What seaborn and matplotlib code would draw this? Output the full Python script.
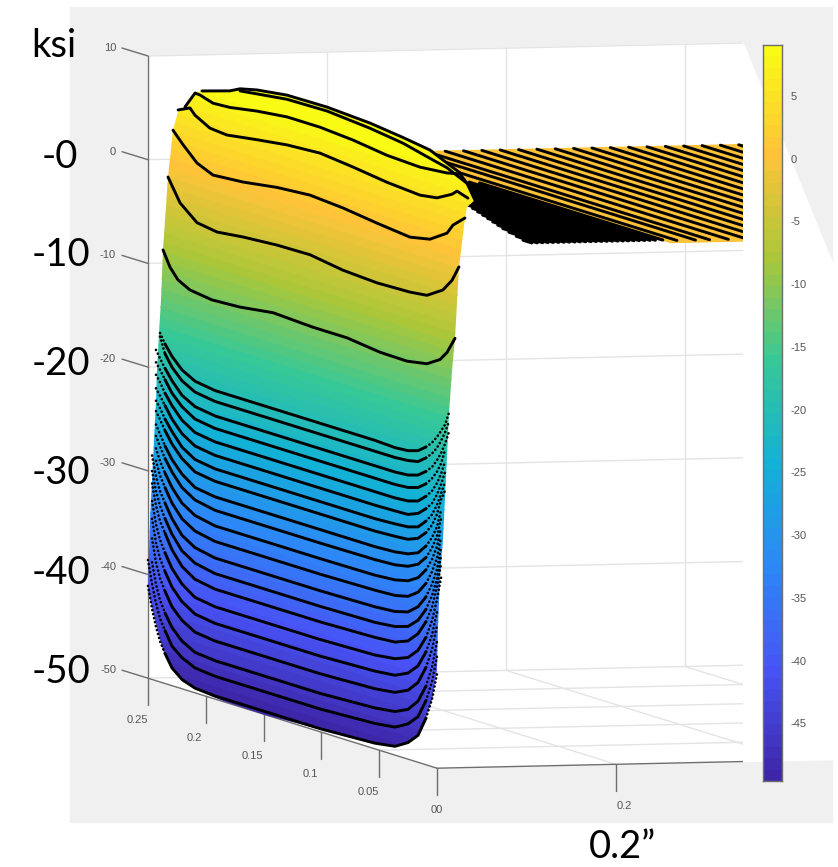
import matplotlib
matplotlib.use("Agg")
import matplotlib.pyplot as plt
import numpy as np
import seaborn as sns
from matplotlib.colors import LinearSegmentedColormap
from matplotlib.patches import Polygon, Rectangle

nan = np.nan

# Depth stations (in) shared by the lower stack of stress profiles
STACK_DEPTH = [0.25, 0.2465, 0.2431, 0.2396, 0.2353, 0.2292, 0.2206, 0.2093, 0.192, 0.1531, 0.1012,
               0.0536, 0.0363, 0.0251, 0.0164, 0.0095, 0.0043, 0.0, -0.0035, -0.0069, -0.0104]

# Mid-depth stress of each profile (ksi)
STACK_MID = [-20.25, -21.3, -22.7, -23.9, -25.2, -26.5, -27.8, -29.0, -30.5, -31.8, -33.3,
             -34.8, -36.4, -37.9, -39.4, -41.1, -42.7, -44.4, -46.3, -47.8, -49.7]

# Rise above the mid stress toward the deep edge, first 9 stations
STACK_RISE_DEEP = [
    [nan, nan, nan, 3.9, 3.0, 2.0, 1.0, 0.3, 0],
    [nan, nan, nan, 4.6, 3.1, 2.0, 1.0, 0.3, 0],
    [nan, nan, 4.6, 3.9, 3.1, 2.1, 1.0, 0.3, 0],
    [nan, nan, 4.6, 4.0, 3.2, 2.1, 1.1, 0.3, 0],
    [nan, nan, 4.7, 4.1, 3.2, 2.2, 1.1, 0.3, 0],
    [nan, nan, 4.7, 4.1, 3.3, 2.2, 1.1, 0.3, 0],
    [nan, nan, 4.8, 4.2, 3.3, 2.3, 1.1, 0.3, 0],
    [nan, nan, 5.0, 4.3, 3.4, 2.3, 1.2, 0.3, 0],
    [nan, nan, 5.2, 4.4, 3.4, 2.3, 1.2, 0.3, 0],
    [nan, nan, 5.4, 4.5, 3.5, 2.4, 1.2, 0.4, 0],
    [nan, nan, 5.7, 4.6, 3.6, 2.4, 1.2, 0.4, 0],
    [nan, nan, 6.0, 4.7, 3.7, 2.4, 1.2, 0.4, 0],
    [nan, 8.0, 6.1, 4.8, 3.8, 2.5, 1.2, 0.4, 0],
    [nan, 8.0, 6.2, 4.9, 3.8, 2.5, 1.2, 0.4, 0],
    [nan, 8.3, 6.3, 4.9, 3.9, 2.5, 1.2, 0.35, 0],
    [nan, 8.3, 6.2, 4.8, 3.7, 2.4, 1.2, 0.3, 0],
    [nan, 8.2, 6.0, 4.6, 3.5, 2.2, 1.1, 0.3, 0],
    [nan, 8.0, 5.8, 4.4, 3.3, 2.0, 1.0, 0.25, 0],
    [nan, 7.6, 5.6, 4.2, 3.1, 1.9, 0.9, 0.2, 0],
    [9.2, 7.0, 5.3, 3.9, 2.9, 1.6, 0.8, 0.2, 0],
    [8.6, 6.5, 4.9, 3.6, 2.6, 1.4, 0.6, 0.15, 0],
]

# Rise toward the shallow edge, last 10 stations
STACK_RISE_SHALLOW = [
    [0, -0.1, 0, 0.3, 0.9, 1.5, 2.2, 2.9, 3.6, 4.9],
    [0, 0, 0.1, 0.3, 0.9, 1.5, 2.2, 3.0, 3.9, 5.1],
    [0, 0, 0.1, 0.4, 1.0, 1.6, 2.4, 3.2, 4.2, 5.5],
    [0, 0, 0.1, 0.4, 1.0, 1.7, 2.5, 3.4, 4.8, nan],
    [0, 0, 0.1, 0.4, 1.1, 1.8, 2.7, 3.7, 5.0, nan],
    [0, 0.05, 0.1, 0.5, 1.2, 1.9, 2.9, 4.0, 5.3, nan],
    [0, 0.1, 0.2, 0.5, 1.3, 2.1, 3.2, 4.4, 5.6, nan],
    [0, 0.1, 0.2, 0.6, 1.4, 2.3, 3.5, 5.0, 6.0, nan],
    [0, 0.1, 0.3, 0.7, 1.6, 2.6, 3.8, 5.5, nan, nan],
    [0.05, 0.15, 0.4, 0.9, 1.8, 2.9, 4.2, 6.0, nan, nan],
    [0.05, 0.2, 0.5, 1.1, 2.1, 3.3, 4.7, 6.6, nan, nan],
    [0.1, 0.2, 0.5, 1.2, 2.3, 3.6, 5.1, 7.2, nan, nan],
    [0.1, 0.25, 0.6, 1.4, 2.6, 4.0, 5.6, 7.8, nan, nan],
    [0.1, 0.3, 0.7, 1.6, 2.9, 4.4, 6.2, 8.5, nan, nan],
    [0.15, 0.3, 0.8, 1.8, 3.2, 4.8, 6.9, 9.2, nan, nan],
    [0.15, 0.4, 0.9, 1.9, 3.4, 5.2, 7.4, 9.6, nan, nan],
    [0.2, 0.4, 1.0, 2.0, 3.6, 5.4, 7.8, nan, nan, nan],
    [0.2, 0.45, 1.05, 2.1, 3.8, 5.7, 8.2, nan, nan, nan],
    [0.25, 0.5, 1.1, 2.2, 3.9, 5.9, 8.5, nan, nan, nan],
    [0.25, 0.5, 1.2, 2.2, 4.0, 6.0, 8.6, nan, nan, nan],
    [0.25, 0.55, 1.3, 2.3, 4.2, 6.2, 8.8, nan, nan, nan],
]

# Upper profiles, each with its own depth stations
UPPER_DEPTH = [
    [0.2033, 0.1791, 0.1704, 0.1557, 0.1298, 0.0952, 0.058, 0.0294, 0.0061, -0.0087, -0.0199],
    [0.1704, 0.1298, 0.0952, 0.058, 0.0294, 0.0061, -0.0087, -0.026],
    [0.218, 0.2093, 0.205, 0.1938, 0.1791, 0.1557, 0.1298, 0.1012, 0.0727, 0.0433, 0.0147, -0.0087, -0.0199, -0.026, -0.0329],
    [0.224, 0.2137, 0.2093, 0.1964, 0.1817, 0.1557, 0.1298, 0.1012, 0.0727, 0.0433, 0.0147, 0.0, -0.013, -0.0173, -0.0268],
    [0.2284, 0.2197, 0.2076, 0.1938, 0.1678, 0.1384, 0.1099, 0.0813, 0.0519, 0.0234, 0.0061, -0.0087, -0.0138, -0.0242],
    [0.2327, 0.2223, 0.2076, 0.1903, 0.1678, 0.1384, 0.1099, 0.0813, 0.0519, 0.0234, 0.0087, -0.0052, -0.013, -0.019],
    [0.237, 0.231, 0.224, 0.2137, 0.1946, 0.1704, 0.1419, 0.1073, 0.0779, 0.0493, 0.026, 0.0087, -0.0026, -0.0087, -0.0156],
]
UPPER_KSI = [
    [8.25, 9.1, 9.6, 10.0, 10.4, 10.45, 10.2, 9.8, 9.4, 8.65, 8.1],
    [9.4, 10.0, 10.07, 9.7, 9.25, 8.6, 8.2, 7.3],
    [6.2, 7.84, 7.8, 7.4, 7.5, 7.96, 8.3, 8.3, 8.05, 7.6, 7.45, 7.7, 8.0, 7.3, 5.9],
    [5.7, 6.25, 5.7, 4.9, 4.75, 5.2, 5.6, 5.8, 5.45, 5.0, 4.75, 5.0, 5.8, 6.25, 5.9],
    [3.6, 2.5, 1.15, 0.47, 0.7, 1.2, 1.45, 1.2, 0.76, 0.4, 0.8, 1.9, 2.85, 3.9],
    [-1.07, -3.2, -4.6, -4.9, -4.6, -4.36, -4.3, -4.8, -5.0, -4.9, -4.7, -3.7, -2.5, -1.0],
    [-8.25, -9.7, -10.7, -11.3, -11.6, -11.45, -11.0, -11.2, -11.2, -11.6, -11.65, -11.3, -10.5, -9.6, -8.0],
]

# Outline of the coloured surface, clockwise from the top left
OUTLINE_DEPTH = [0.2033, 0.2093, 0.218, 0.224, 0.2284, 0.2327, 0.237, 0.2387, 0.2405, 0.2422, 0.2435, 0.2461,
                 0.2483, 0.2504, 0.2428, 0.237, 0.2284, 0.2197, 0.2076, 0.1851, 0.1488, 0.1185, 0.09, 0.0606,
                 0.0381, 0.026, 0.0173, 0.0104, 0.0043, 0.0, -0.0009, -0.0026, -0.0052, -0.0069, -0.0087,
                 -0.0104, -0.013, -0.0156, -0.019, -0.0242, -0.026, -0.0329, -0.026, -0.0199, -0.0087, 0.0061,
                 0.0294, 0.058, 0.0952, 0.1298, 0.1557, 0.1704, 0.1791]
OUTLINE_KSI = [8.25, 7.84, 6.2, 5.5, 3.6, -1.07, -8.25, -13.1, -16.4, -20.0, -23.0, -28.8,
               -34.7, -41.5, -44.5, -46.8, -48.5, -49.3, -49.7, -49.9, -50.0, -49.85, -49.7, -49.6,
               -49.2, -48.5, -47.6, -45.7, -43.6, -40.5, -36.4, -31.5, -27.8, -23.6, -19.7,
               -15.4, -11.2, -8.0, -1.0, 3.9, 5.0, 5.9, 7.3, 8.1, 8.65, 9.4,
               9.8, 10.2, 10.45, 10.4, 10.0, 9.6, 9.1]

# Flat part of the field past the edge of the block
PLATEAU_KSI = 0.2
HATCH_X = [0.2746, 0.2953, 0.3111, 0.332, 0.3525, 0.373, 0.3935, 0.414, 0.4345, 0.455, 0.4755, 0.496,
           0.5165, 0.537, 0.5575, 0.578, 0.5985, 0.619, 0.6395, 0.66]
FAN_X = [0.115, 0.121, 0.127, 0.133, 0.139, 0.145, 0.151, 0.157, 0.163, 0.169, 0.175, 0.181, 0.187,
         0.193, 0.199, 0.205, 0.211, 0.217, 0.223, 0.229, 0.235, 0.241, 0.247, 0.253, 0.2612]
FAN_DEPTH_START = [0.0146, 0.025, 0.036, 0.046, 0.055, 0.064, 0.073, 0.082, 0.091, 0.1, 0.108, 0.115, 0.122,
                   0.129, 0.136, 0.142, 0.148, 0.153, 0.158, 0.162, 0.165, 0.167, 0.168, 0.168, 0.1654]
FAN_DEPTH_END = 0.007

KSI_TICKS = [10, 0, -10, -20, -30, -40, -50]
KSI_LABELS = ["10", "0", "-10", "-20", "-30", "-40", "-50"]
DEPTH_TICKS = [0.25, 0.2, 0.15, 0.1, 0.05, 0.0]
DEPTH_LABELS = ["0.25", "0.2", "0.15", "0.1", "0.05", "00"]
X_TICKS = [0.0, 0.2, 0.4, 0.6]
CB_TICKS = [5, 0, -5, -10, -15, -20, -25, -30, -35, -40, -45]
CB_TOP = 9.06
CB_BOTTOM = -49.6

BIG_LABELS = ["ksi", "-0", "-10", "-20", "-30", "-40", "-50"]
BIG_LABEL_RIGHT = [76, 78, 90, 90, 90, 90, 90]
BIG_LABEL_MID = [46, 157, 255, 364, 473, 573, 672]

PARULA = [(0.2422, 0.1504, 0.6603), (0.2810, 0.3228, 0.9579), (0.1786, 0.5289, 0.9682),
          (0.0689, 0.6948, 0.8394), (0.2161, 0.7843, 0.5923), (0.6720, 0.7793, 0.2227),
          (0.9970, 0.7659, 0.2199), (0.9769, 0.9839, 0.0805)]


def project(x, depth, ksi):
    # view of the 3D box, gives figure pixels
    along = 0.25 - np.asarray(depth, dtype=float)
    x = np.asarray(x, dtype=float)
    ksi = np.asarray(ksi, dtype=float)
    return 148 + 895 * x + 1156 * along, 56 + (10 - ksi) * 10.37 - 19.51 * x + 360 * along


def segment(ax, p, q, **kws):
    a = project(*p)
    b = project(*q)
    ax.plot([a[0], b[0]], [a[1], b[1]], **kws)


sns.set_theme(style="white")
parula = LinearSegmentedColormap.from_list("parula", PARULA, N=64)

fig = plt.figure(figsize=(8.38, 8.67), dpi=100, facecolor="white")
ax = fig.add_axes([0, 0, 1, 1])
ax.set_axis_off()

panel = "#f0f0f0"
grid = "#e4e4e4"
axis_c = "#6e6e6e"
text_c = "#555555"

ax.add_patch(Rectangle((70, 7), 762, 815, color=panel, zorder=0))
X_END = 0.665
wall = [project(0, 0.25, 10), project(X_END, 0.25, 10), project(X_END, 0, -50),
        project(0, 0, -50), project(0, 0.25, -50)]
ax.add_patch(Polygon(np.array(wall, dtype=float), color="white", zorder=0.5))

# grid on the back wall and the floor
for k in KSI_TICKS:
    segment(ax, (0, 0.25, k), (X_END, 0.25, k), color=grid, lw=1, zorder=1)
for x in X_TICKS[1:]:
    segment(ax, (x, 0.25, 10), (x, 0.25, -50), color=grid, lw=1, zorder=1)
    segment(ax, (x, 0.25, -50), (x, 0, -50), color=grid, lw=1, zorder=1)
for d in DEPTH_TICKS[1:-1]:
    segment(ax, (0, d, -50), (X_END, d, -50), color=grid, lw=1, zorder=1)

# box edges and ticks
segment(ax, (0, 0.25, 10), (0, 0.25, -50), color=axis_c, lw=1, zorder=1.5)
segment(ax, (0, 0.25, -50), (0, 0, -50), color=axis_c, lw=1, zorder=1.5)
segment(ax, (0, 0, -50), (X_END, 0, -50), color=axis_c, lw=1, zorder=1.5)
for k, label in zip(KSI_TICKS, KSI_LABELS):
    px, py = project(0, 0.25, k)
    ax.plot([px, px - 26], [py, py - 8], color=axis_c, lw=1, zorder=1.5)
    ax.text(px - 32, py - 8, label, ha="right", va="center", fontsize=8, color=text_c, family="Liberation Sans")
for d, label in zip(DEPTH_TICKS, DEPTH_LABELS):
    px, py = project(0, d, -50)
    ax.plot([px, px], [py, py + 27], color=axis_c, lw=1, zorder=1.5)
    ax.text(px if d == 0 else px - 11, py + 42, label, ha="center", va="center", fontsize=8, color=text_c,
            family="Liberation Sans")
px, py = project(X_TICKS[1], 0, -50)
ax.plot([px, px], [py, py + 27], color=axis_c, lw=1, zorder=1.5)
ax.text(px + 8, py + 42, "0.2", ha="center", va="center", fontsize=8, color=text_c, family="Liberation Sans")

# flat orange part with its mesh lines
plateau_color = parula((PLATEAU_KSI - CB_BOTTOM) / (CB_TOP - CB_BOTTOM))
plateau = Polygon(np.column_stack(project([0.3, 0.72, 0.72, 0.2612, 0.2539], [0.25, 0.25, 0.0, 0.0, 0.1654],
                                          PLATEAU_KSI)), color=plateau_color, zorder=2)
ax.add_patch(plateau)
for x in HATCH_X:
    segment(ax, (x, 0.25, PLATEAU_KSI), (x, 0.005, PLATEAU_KSI), color="black", lw=2.1, zorder=2.2,
            solid_capstyle="round")
for x, d in zip(FAN_X, FAN_DEPTH_START):
    segment(ax, (x, d, PLATEAU_KSI), (x, FAN_DEPTH_END, PLATEAU_KSI), color="black", lw=2.3, zorder=2.2,
            solid_capstyle="round")

# stress surface, 64 colour bands clipped to the outline
band_edges = np.linspace(CB_BOTTOM, CB_TOP, 65)
band_edges[0] = -52
band_edges[-1] = 12
grid_d, grid_k = np.meshgrid([-0.06, 0.3], band_edges)
mesh_x, mesh_y = project(0, grid_d, grid_k)
mesh = ax.pcolormesh(mesh_x, mesh_y, np.arange(64).reshape(-1, 1), cmap=parula, vmin=0, vmax=63,
                     shading="flat", zorder=3, antialiased=False)
outline = Polygon(np.column_stack(project(0, OUTLINE_DEPTH, OUTLINE_KSI)), transform=ax.transData)
mesh.set_clip_path(outline)

# profile lines, dotted where they run up the edges
for mid, deep, shallow in zip(STACK_MID, STACK_RISE_DEEP, STACK_RISE_SHALLOW):
    rise = np.array(deep + [0, 0] + shallow)
    px, py = project(0, STACK_DEPTH, mid + rise[:len(STACK_DEPTH)])
    sns.lineplot(x=px[4:16], y=py[4:16], ax=ax, color="black", lw=2.1, sort=False, estimator=None,
                 zorder=4, solid_capstyle="round", legend=False)
    for part in (slice(0, 5), slice(15, None)):
        keep = ~np.isnan(py[part])
        ax.plot(px[part][keep], py[part][keep], color="black", lw=1.9, zorder=4,
                linestyle=(0, (0.05, 1.5)), dash_capstyle="round")

for depth, ksi in zip(UPPER_DEPTH, UPPER_KSI):
    px, py = project(0, depth, ksi)
    sns.lineplot(x=px, y=py, ax=ax, color="black", lw=2.1, sort=False, estimator=None, zorder=4,
                 solid_capstyle="round", legend=False)

# nothing of the box goes past the right side of the white area
clip = Rectangle((0, 0), 743, 867, transform=ax.transData)
for line in ax.lines:
    line.set_clip_path(clip)
plateau.set_clip_path(clip)

# hand typed annotations on top of the chart
for label, right, mid in zip(BIG_LABELS, BIG_LABEL_RIGHT, BIG_LABEL_MID):
    ax.text(right, mid, label, ha="right", va="center", fontsize=27.5, color="black", family="Lato", zorder=6)
ax.text(622, 847, "0.2\u201d", ha="center", va="center", fontsize=27.5, color="black", family="Lato", zorder=6)

ax.set_xlim(0, 838)
ax.set_ylim(867, 0)

# colour bar
cax = fig.add_axes([763 / 838, 1 - 781 / 867, 19 / 838, 736 / 867])
sns.heatmap(np.arange(64)[::-1].reshape(-1, 1), ax=cax, cmap=parula, vmin=0, vmax=63, cbar=False,
            xticklabels=False, yticklabels=False)
cax.yaxis.tick_right()
cax.set_yticks([(CB_TOP - t) / (CB_TOP - CB_BOTTOM) * 64 for t in CB_TICKS])
cax.set_yticklabels([str(t) for t in CB_TICKS], rotation=0, family="Liberation Sans")
cax.tick_params(axis="y", direction="in", length=6, width=1, color=axis_c, labelsize=8, labelcolor=text_c,
                pad=6, right=True, left=False)
for spine in cax.spines.values():
    spine.set_visible(True)
    spine.set_color(axis_c)
    spine.set_linewidth(1)

fig.savefig("out.png", dpi=100)
